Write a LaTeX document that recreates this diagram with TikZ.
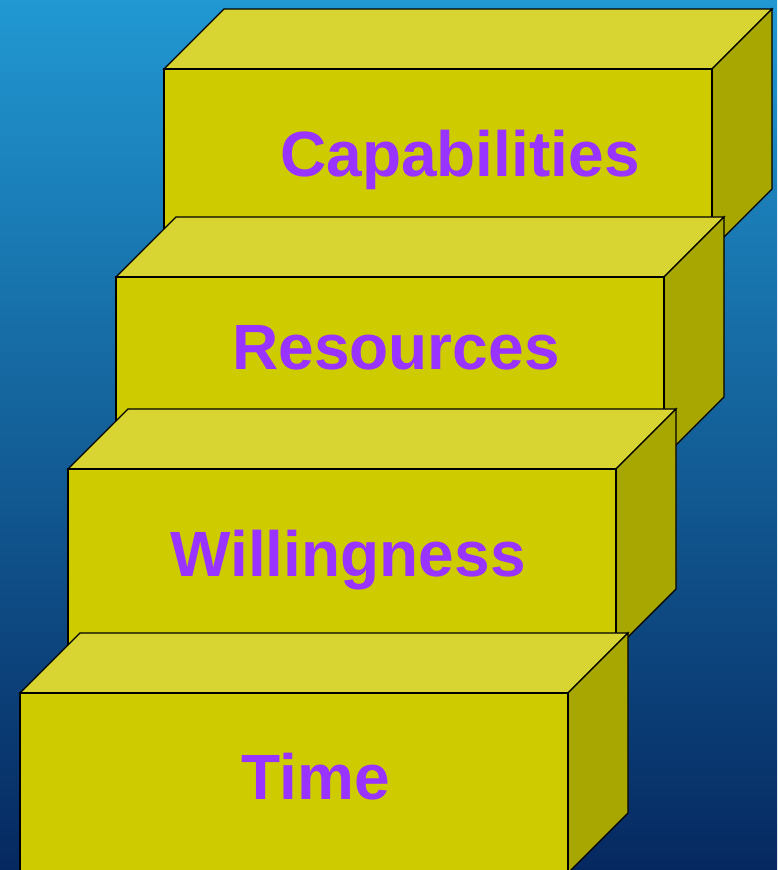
\documentclass[tikz,border=0pt]{standalone}
\usepackage{fontspec}
\setmainfont{Liberation Sans}
\definecolor{skytop}{RGB}{33,152,210}
\definecolor{skybottom}{RGB}{6,40,96}
\definecolor{blockfront}{RGB}{206,204,0}
\definecolor{blocktop}{RGB}{216,212,50}
\definecolor{blockside}{RGB}{168,166,0}
\definecolor{wordpurple}{RGB}{153,51,255}
\tikzset{
  face/.style={draw=black, line width=1.3pt, line join=miter},
  % one stair block: front face at the origin, 548 wide, 180 high, depth 60
  stairblock/.pic={
    \filldraw[face, fill=blocktop] (0,0) -- (60,-60) -- (608,-60) -- (548,0) -- cycle;
    \filldraw[face, fill=blockside] (548,0) -- (608,-60) -- (608,120) -- (548,180) -- cycle;
    \filldraw[face, fill=blockfront] (0,0) rectangle (548,180);
  },
  stepword/.style={text=wordpurple, anchor=base, inner sep=0pt,
    font=\fontsize{64}{64}\selectfont\bfseries}
}
\begin{document}
\begin{tikzpicture}[x=1pt,y=-1pt]
  \useasboundingbox (0,0) rectangle (777,870);
  \clip (0,0) rectangle (777,870);
  \shade[top color=skytop, bottom color=skybottom] (0,0) rectangle (777,870);
  % blocks from back to front
  \pic at (164,69) {stairblock};
  \pic at (116,277) {stairblock};
  \pic at (68,469) {stairblock};
  \pic at (20,693) {stairblock};
  % labels on the front faces
  \node[stepword] (capabilities) at (460,176) {Capabilities};
  \node[stepword] (resources) at (396,369) {Resources};
  \node[stepword] (willingness) at (348,576) {Willingness};
  \node[stepword] (time) at (316,799) {Time};
\end{tikzpicture}
\end{document}
